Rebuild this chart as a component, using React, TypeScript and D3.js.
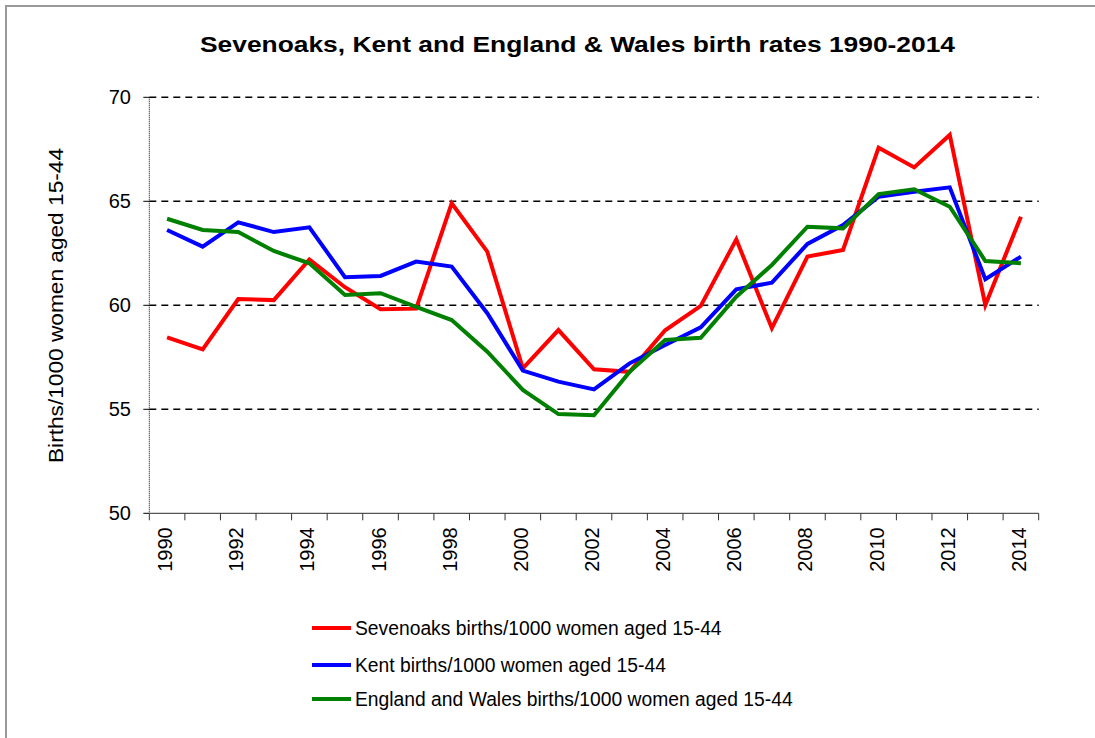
import React from "react";
import * as d3 from "d3";

const years: number[] = d3.range(1990, 2015);
const sevenoaks: number[] = [58.46, 57.88, 60.3, 60.25, 62.2, 60.87, 59.81, 59.84, 64.9, 62.58, 56.97, 58.81, 56.92, 56.8, 58.8, 59.97, 63.17, 58.9, 62.34, 62.66, 67.58, 66.63, 68.19, 60.01, 64.26];
const kent: number[] = [63.62, 62.82, 63.99, 63.52, 63.75, 61.35, 61.41, 62.1, 61.86, 59.62, 56.86, 56.33, 55.96, 57.21, 58.09, 58.94, 60.77, 61.09, 62.95, 63.86, 65.22, 65.46, 65.67, 61.25, 62.34];
const englandWales: number[] = [64.16, 63.62, 63.52, 62.61, 62.02, 60.5, 60.58, 59.93, 59.29, 57.77, 55.93, 54.77, 54.71, 56.8, 58.33, 58.44, 60.41, 61.94, 63.78, 63.7, 65.35, 65.58, 64.74, 62.13, 62.02];
const yTicks: number[] = [50, 55, 60, 65, 70];
const seriesNames: string[] = [
  "Sevenoaks births/1000 women aged 15-44",
  "Kent births/1000 women aged 15-44",
  "England and Wales births/1000 women aged 15-44",
];
const seriesColors: string[] = ["#ff0000", "#0000ff", "#008000"];

export default function App() {
  const W = 1095, H = 738;
  const left = 149.3, right = 1038.7, top = 97.3, bottom = 513.3;
  const x = d3.scaleBand<number>().domain(years).range([left, right]);
  const y = d3.scaleLinear().domain([50, 70]).range([bottom, top]);
  const cx = (yr: number) => (x(yr) as number) + x.bandwidth() / 2;
  const line = d3.line<number>().x((_, i) => cx(years[i])).y((v) => y(v));
  const series = [sevenoaks, kent, englandWales];
  const font = "'Liberation Sans', Arial, sans-serif";
  const tickEdges = d3.range(0, years.length + 1).map((i) => left + i * x.step());

  return (
    <svg width={W} height={H} style={{ position: "absolute", left: 0, top: 0 }} fontFamily={font}>
      <rect x={0} y={0} width={W} height={H} fill="#fff" />
      <rect x={6} y={6} width={W + 10} height={H + 10} fill="none" stroke="#9a9a9a" strokeWidth={2} />
      <text x={577.5} y={52} textAnchor="middle" fontSize={22} fontWeight="bold" fill="#000" textLength={755} lengthAdjust="spacingAndGlyphs">
        Sevenoaks, Kent and England &amp; Wales birth rates 1990-2014
      </text>
      {yTicks.filter((t) => t > 50).map((t) => (
        <line key={"g" + t} x1={left} x2={right} y1={y(t)} y2={y(t)} stroke="#000" strokeWidth={1.6} strokeDasharray="7,5" />
      ))}
      <line x1={left} x2={left} y1={top} y2={bottom} stroke="#000" strokeWidth={1} strokeDasharray="1,1" />
      {yTicks.map((t) => (
        <g key={"y" + t}>
          <line x1={left - 6} x2={left} y1={y(t)} y2={y(t)} stroke="#000" strokeWidth={1} />
          <text x={131} y={y(t) + 7} textAnchor="end" fontSize={20} fill="#000">{t}</text>
        </g>
      ))}
      <line x1={left} x2={right} y1={bottom} y2={bottom} stroke="#555" strokeWidth={1.2} />
      {tickEdges.map((tx, i) => (
        <line key={"xt" + i} x1={tx} x2={tx} y1={bottom} y2={bottom + 7} stroke="#333" strokeWidth={1} />
      ))}
      {years.filter((yr) => (yr - 1990) % 2 === 0).map((yr) => (
        <text key={"xl" + yr} transform={`translate(${cx(yr) + 5},${bottom + 14}) rotate(-90)`} textAnchor="end" fontSize={20} fill="#000">
          {yr}
        </text>
      ))}
      <text transform={`translate(63,305.5) rotate(-90)`} textAnchor="middle" fontSize={20} fill="#000" textLength={315} lengthAdjust="spacingAndGlyphs">
        Births/1000 women aged 15-44
      </text>
      {series.map((s, i) => (
        <path key={"s" + i} d={line(s) as string} fill="none" stroke={seriesColors[i]} strokeWidth={4} strokeLinejoin="miter" />
      ))}
      {seriesNames.map((n, i) => {
        const ly = [628, 665, 699][i];
        return (
          <g key={"lg" + i}>
            <line x1={312} x2={351} y1={ly} y2={ly} stroke={seriesColors[i]} strokeWidth={4} />
            <text x={355} y={ly + 7} fontSize={19.3} fill="#000">{n}</text>
          </g>
        );
      })}
    </svg>
  );
}
